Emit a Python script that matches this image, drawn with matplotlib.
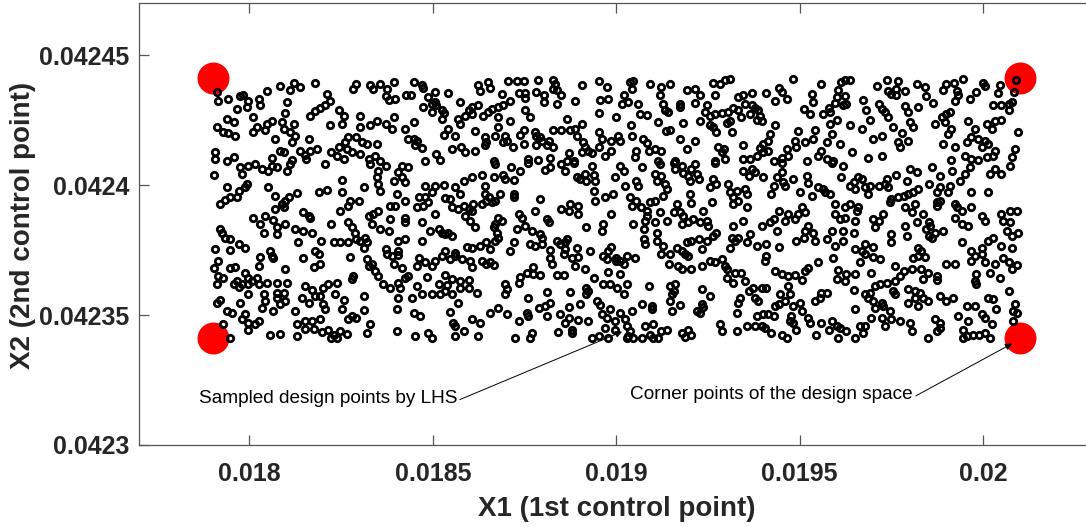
# plot.py
#
# LHS sample of the two control points (X1, X2) inside the design space,
# with the four corner points of the design space drawn as big red dots.
# Samples are kept in the unit square (per mille) and scaled to the bounds.

import numpy as np
import matplotlib
matplotlib.use("Agg")
import matplotlib.pyplot as plt

X1_BOUNDS = (0.0179, 0.0201)
X2_BOUNDS = (0.042341, 0.042441)

corner_x1 = [0.0179, 0.0179, 0.0201, 0.0201]
corner_x2 = [0.042341, 0.042441, 0.042341, 0.042441]

x_ticks = [0.018, 0.0185, 0.019, 0.0195, 0.02]
x_tick_labels = ["0.018", "0.0185", "0.019", "0.0195", "0.02"]
y_ticks = [0.0423, 0.04235, 0.0424, 0.04245]
y_tick_labels = ["0.0423", "0.04235", "0.0424", "0.04245"]

# LHS design points in the unit square, per mille (u -> X1, v -> X2)
lhs_unit = [
    (5,947),(7,915),(19,922),(34,931),(38,938),(44,915),(57,922),(59,896),(67,951),(83,969),(96,954),(100,982),(108,967),(127,983),(141,941),(145,915),(139,896),(133,887),(127,874),(121,857),(156,877),(162,857),(174,960),(178,980),(195,973),(199,960),(207,980),(216,960),(224,986),(214,931),(218,918),(226,922),(240,935),
    (30,883),(42,890),(50,851),(92,909),(90,866),(17,845),(26,832),(5,815),(13,793),(19,789),(28,780),(50,793),(55,812),(67,825),(73,838),(65,800),(86,832),(88,806),(100,825),(96,793),(102,780),(77,767),(98,755),(119,767),(145,819),(160,825),(183,857),(183,812),(195,819),(203,838),(214,825),(224,851),(222,806),(238,806),(242,767),(168,774),(178,774),(185,755),(191,748),(164,755),(166,729),(156,735),(147,716),(154,703),(162,690),(172,716),(183,709),(193,690),(203,748),(201,703),(207,681),(3,716),(3,690),(17,684),(26,697),(83,722),(88,716),(108,722),(114,707),(121,722),(129,729),(98,686),(73,694),(116,690),
    (249,986),(259,973),(261,964),(246,935),(267,928),(275,947),(292,944),(261,890),(271,902),(275,909),(277,896),(271,870),(284,877),(286,866),(284,845),(249,832),(306,909),(329,973),(331,951),(341,986),(344,964),(358,941),(366,989),(377,989),(385,989),(379,944),(387,944),(387,926),(368,915),(360,896),(354,890),(346,883),(341,870),(335,854),(329,896),(321,890),(317,877),(321,864),(313,857),(304,845),(306,825),(354,851),(368,838),(387,877),(393,851),(401,947),(403,995),(410,935),(410,909),(422,995),(424,980),(422,960),(426,954),(432,938),(426,902),(457,973),(478,990),(488,967),(449,915),(480,918),(490,922),(478,866),(439,845),(457,825),(449,806),(443,800),(451,780),(422,800),(432,800),(399,793),(401,780),(405,774),(408,761),(416,761),(385,800),(381,784),(422,735),(401,742),(414,742),(385,748),(372,735),(354,812),(350,780),(362,780),(364,761),(360,755),(337,774),(339,755),(337,745),(325,797),(300,780),(286,784),(292,806),(249,767),(253,761),(251,742),(259,733),(296,729),(308,735),(313,716),(325,720),(277,709),(282,686),(263,684),(348,684),(391,690),(403,686),(418,694),(441,712),(439,684),(447,681),(459,755),(461,735),(465,722),(457,716),(470,712),(478,793),(482,767),(478,735),(486,703),(494,761),(494,722),
    (517,986),(521,990),(519,960),(509,935),(507,902),(515,909),(500,851),(527,902),(529,864),(538,861),(542,977),(556,967),(566,977),(554,935),(558,902),(560,877),(564,870),(552,832),(579,902),(579,890),(587,956),(597,960),(604,938),(597,905),(583,828),(620,982),(628,977),(635,992),(641,999),(622,935),(612,896),(610,870),(604,838),(616,857),(622,864),(631,866),(639,870),(645,887),(651,877),(655,851),(641,838),(616,819),(620,812),(624,793),(637,828),(643,793),(651,928),(657,935),(668,944),(659,902),(668,896),(672,887),(666,864),(676,879),(678,857),(680,838),(674,841),(686,944),(697,913),(701,964),(705,947),(711,922),(719,999),(742,941),(744,909),(732,883),(740,864),
    (518,819),(519,780),(502,780),(505,761),(533,767),(538,751),(540,722),(548,729),(556,722),(525,720),(523,697),(562,797),(566,802),(579,767),(597,761),(587,729),(552,684),(573,684),(626,735),(633,729),(631,716),(622,684),(635,690),(657,742),(690,787),(688,761),(682,748),(678,733),(688,722),(697,819),(657,690),(666,690),(674,703),(682,716),(695,681),(705,694),(713,703),(711,729),(721,761),(723,735),(725,797),(734,755),(744,767),(746,800),(736,684),(750,703),
    (754,980),(775,954),(779,986),(783,992),(790,995),(773,928),(783,931),(785,902),(781,896),(771,905),(763,887),(756,864),(765,870),(806,918),(823,969),(835,995),(837,951),(841,941),(847,960),(849,990),(847,935),(858,951),(872,977),(882,967),(884,931),(893,905),(905,954),(909,977),(918,982),(922,951),(924,935),(920,913),(930,999),(938,922),(946,947),(955,982),(957,969),(975,973),(973,944),(995,995),(993,947),(990,909),(986,902),(977,896),(967,896),(986,877),(810,877),(814,841),(825,902),(829,883),(833,870),(837,851),(858,892),(862,870),(874,890),(790,819),(804,806),(765,825),(773,841),(767,787),(761,755),(777,748),(754,722),(761,690),(769,684),(792,716),(812,694),(818,767),(829,780),(843,815),(854,789),(864,832),(868,812),(862,761),(849,755),(851,738),(829,703),(895,825),(903,851),(907,832),(909,864),(913,870),(915,806),(911,787),(936,838),(944,806),(959,825),(969,838),(977,841),(965,806),(998,793),(905,748),(920,738),(934,755),(940,774),(948,767),(957,761),(961,748),(953,735),(969,722),(994,729),(990,697),(915,686),(932,703),(940,690),(948,686),(959,697),(967,703),
    (1,630),(34,658),(36,632),(44,665),(52,671),(61,652),(69,645),(73,665),(79,658),(96,671),(92,645),(139,671),(42,594),(40,581),(32,568),(30,543),(21,545),(15,532),(9,517),(17,584),(69,584),(77,549),(104,558),(94,543),(90,530),(86,517),(88,504),(77,498),(112,485),(119,472),(121,465),(65,472),(75,455),(50,463),(131,562),(141,571),(160,609),(160,562),(187,581),(170,530),(181,530),(168,510),(158,491),(147,440),(168,446),(172,427),(176,407),(178,382),(183,375),(193,472),(199,478),(205,491),(197,440),(207,420),(218,414),(189,388),(191,369),(187,347),(220,510),(226,510),(238,530),(220,459),(238,465),(238,446),(203,620),(205,594),(207,568),(205,645),(195,671),(214,665),(224,607),(230,639),(234,665),(242,661),(238,600),(234,620),(228,555),(255,543),(263,545),(267,523),(271,562),(263,587),(275,587),(286,591),(253,504),(261,510),(275,478),(259,446),(288,540),(294,536),(300,584),(306,555),(296,504),(304,498),(311,510),(317,498),(323,517),(321,491),(333,517),(311,604),(321,620),(333,630),(313,472),(319,452),(325,427),(269,414),(280,420),(284,407),(292,407),(296,395),(288,401),(230,375),(238,382),(259,375),(288,337),(300,330),(315,350),(321,347),(331,356),(214,343),(230,337),(59,440),(63,407),(79,427),(79,401),(90,440),(102,420),(112,414),(123,407),(134,375),(150,369),(158,369),(168,369),(106,369),(9,420),(11,407),(15,388),(21,382),(32,365),(40,347),(3,343),(21,339),(71,337),(127,337),
    (7,298),(1,272),(21,272),(28,275),(40,253),(57,279),(59,314),(73,317),(75,311),(90,266),(112,308),(131,324),(133,285),(125,275),(170,314),(191,304),(193,279),(197,285),(201,259),(205,240),(211,208),(224,288),(234,272),(238,234),(242,240),(230,214),(220,195),(232,195),(216,324),(222,317),(230,321),(255,311),(253,279),(263,292),(271,279),(275,296),(284,317),(294,304),(300,317),(309,304),(319,298),(321,275),(333,298),(265,236),(288,244),(296,227),(253,202),(280,208),(290,205),(306,221),(317,224),(306,193),(317,193),(259,169),(271,169),(282,169),(288,182),(296,169),(304,137),(327,176),(230,157),(228,112),(247,157),(249,99),(257,86),(294,103),(298,60),(300,47),(321,73),(331,60),(311,28),(300,9),(329,9),(251,9),(267,21),(271,0),(228,28),(195,56),(191,21),(172,86),(178,79),(168,73),(187,108),(187,163),(160,112),(162,146),(174,240),(172,227),(154,215),(143,211),(152,169),(137,195),(133,163),(123,185),(114,202),(110,157),(119,137),(127,163),(137,131),(139,112),(102,105),(114,67),(123,67),(133,73),(104,54),(114,38),(125,38),(135,25),(143,34),(150,15),(154,0),(158,28),(166,18),(147,0),(63,169),(65,144),(61,118),(75,105),(79,176),(88,176),(79,157),(90,144),(83,131),(67,215),(79,215),(92,215),(44,234),(48,221),(55,234),(57,208),(30,221),(26,208),(32,198),(36,208),(44,208),(7,240),(13,234),(5,208),(44,169),(34,137),(5,137),(9,146),(17,105),(24,99),(40,92),(36,73),(44,60),(52,54),(57,67),(44,34),(13,56),(21,0),(71,13),(83,18),(104,9),
    (339,285),(344,292),(348,283),(418,311),(420,285),(435,324),(445,311),(453,314),(449,279),(397,275),(389,253),(397,247),(406,244),(381,236),(379,214),(426,244),(435,244),(461,266),(472,234),(484,317),(488,304),(500,311),(505,298),(513,317),(523,311),(509,285),(500,298),(490,257),(505,249),(484,208),(492,208),(501,193),(513,208),(509,169),(463,195),(465,182),(463,169),(443,180),(414,180),(362,208),(364,189),(362,169),(391,157),(354,118),(344,99),(364,92),(389,99),(391,86),(404,118),(412,124),(418,137),(414,86),(430,92),(441,121),(455,131),(379,67),(375,0),(393,0),(395,21),(428,25),(437,60),(441,79),(445,34),(445,21),(453,69),(465,67),(476,144),(480,128),(482,92),(488,79),(492,112),(505,99),(499,67),(511,73),(519,105),(532,133),(544,124),(544,112),(486,41),(499,34),(513,47),(517,28),(515,9),(478,9),(470,0),(490,0),(513,0),(521,0),(532,0),(536,47),(546,56),(542,15),(546,0),(552,0),(556,28),(563,34),(540,202),(556,324),(567,324),(585,324),(589,317),(565,285),(577,279),(581,266),(593,266),(606,279),(616,298),(622,292),(631,304),(635,279),(637,266),(647,253),(655,253),(660,221),(645,214),(637,234),(606,189),(616,163),(567,202),(573,208),(571,182),(569,169),(567,144),(579,128),(569,105),(606,131),(608,121),(604,99),(600,105),(629,54),(631,28),(581,21),(589,34),(593,15),(585,5),(649,99),(649,28),(653,157),(651,137),(664,182),(670,195),(672,157),(676,144),(662,47),(674,86),(672,47),
    (350,671),(337,587),(337,555),(342,543),(339,530),(346,523),(350,530),(356,555),(373,555),(373,543),(348,622),(360,630),(362,613),(373,609),(370,658),(381,643),(391,674),(412,648),(418,661),(432,671),(437,645),(447,674),(451,622),(455,613),(461,632),(470,665),(472,630),(474,607),(463,604),(472,568),(474,530),(486,543),(496,555),(498,620),(505,665),(509,645),(511,587),(532,658),(525,607),(527,587),(548,632),(550,607),(556,626),(560,594),(563,575),(558,549),(554,671),(571,674),(573,652),(581,665),(583,635),(589,626),(593,652),(600,632),(602,613),(591,607),(598,671),(622,674),(620,613),(616,584),(624,594),(639,594),(641,562),(649,568),(659,575),(662,555),(645,543),(657,645),(668,652),(664,626),(672,639),(645,517),(651,530),(662,504),(591,555),(593,519),(618,523),(608,491),(575,517),(571,485),(579,485),(583,472),(581,440),(589,446),(595,459),(604,446),(612,452),(614,433),(620,395),(612,375),(602,382),(593,375),(587,369),(606,343),(624,407),(645,433),(657,452),(643,388),(647,375),(651,388),(662,369),(674,356),(641,347),(666,401),(517,543),(525,530),(519,510),(530,504),(538,491),(542,523),(548,530),(538,472),(536,452),(548,446),(550,407),(563,452),(554,485),(494,478),(521,440),(534,382),(536,362),(550,375),(558,356),(575,349),(581,337),(490,337),(494,350),(484,440),(482,414),(463,427),(443,517),(453,510),(453,478),(441,491),(432,498),(406,536),(399,491),(379,478),(383,465),(414,459),(416,446),(354,465),(358,452),(350,440),(348,427),(352,407),(354,388),(350,375),(339,369),(344,343),(373,369),(368,337),(377,420),(387,433),(395,414),(406,401),(408,388),(393,362),(399,356),(408,362),(418,339),(426,375),(430,362),(437,369),(439,382),(437,343),(451,349),(467,337),(534,420),
    (682,620),(692,555),(695,587),(699,620),(705,639),(707,600),(709,587),(719,613),(705,674),(736,626),(738,596),(728,562),(742,549),(750,581),(756,575),(759,562),(765,555),(767,674),(781,665),(779,620),(790,587),(794,600),(796,575),(800,620),(804,613),(808,581),(814,587),(812,555),(825,587),(833,594),(835,613),(837,581),(847,630),(860,607),(864,652),(872,639),(874,575),(868,562),(862,555),(856,549),(849,543),(841,536),(839,523),(891,658),(901,626),(887,594),(897,562),(901,581),(911,562),(916,645),(926,607),(932,632),(938,658),(913,587),(940,562),(961,562),(963,632),(969,652),(977,632),(988,665),(897,523),(897,510),(901,530),(858,504),(866,485),(870,517),(880,478),(872,446),(887,446),(889,433),(884,420),(887,395),(891,388),(905,414),(895,407),(920,517),(922,504),(928,491),(940,504),(920,465),(928,440),(936,433),(953,472),(957,452),(967,388),(977,478),(988,491),(996,491),(979,452),(988,446),(984,414),(998,407),(990,395),(990,349),(977,356),(953,347),(961,375),(940,337),(928,369),(874,349),(878,337),(860,395),(858,433),(841,401),(841,369),(818,459),(825,452),(831,478),(820,427),(783,504),(790,517),(798,491),(800,504),(796,452),(771,517),(771,478),(777,459),(783,465),(794,407),(781,414),(781,375),(771,356),(767,414),(761,382),(746,375),(744,407),(738,433),(734,414),(732,388),(723,375),(721,459),(725,478),(734,485),(730,504),(713,478),(709,452),(701,491),(695,459),(690,446),(680,433),(699,414),(686,362),(701,350),(796,343),(804,337),(818,350),(808,362),
    (686,317),(684,298),(697,259),(705,247),(713,240),(721,244),(730,223),(734,259),(738,272),(713,202),(715,169),(703,169),(701,131),(697,124),(709,144),(680,195),(686,195),(682,95),(688,92),(695,86),(692,21),(705,15),(711,0),(723,31),(719,124),(728,137),(730,105),(717,86),(715,67),(719,60),(738,79),(740,60),(746,144),(752,157),(754,176),(761,176),(748,15),(680,47),(684,41),(750,292),(769,308),(775,262),(773,227),(785,249),(783,221),(796,249),(794,185),(796,112),(808,169),(814,176),(816,253),(820,202),(827,208),(835,215),(845,279),(845,221),(843,182),(845,169),(851,240),(856,259),(866,266),(878,266),(880,227),(886,253),(897,223),(897,240),(802,292),(808,324),(818,314),(827,304),(868,311),(874,317),(883,314),(909,285),(920,285),(940,298),(944,317),(953,324),(957,292),(969,285),(979,311),(986,292),(996,283),(990,266),(963,253),(946,247),(944,221),(946,208),(975,234),(986,182),(862,189),(870,182),(876,176),(880,157),(886,144),(870,157),(874,124),(862,137),(901,163),(909,144),(917,157),(812,157),(818,144),(829,137),(820,118),(831,124),(839,105),(816,79),(829,79),(841,73),(851,67),(864,60),(866,28),(833,47),(767,67),(763,34),(773,47),(777,41),(785,28),(802,47),(808,47),(806,21),(796,2),(775,0),(754,60),(886,0),(895,73),(901,60),(897,28),(901,41),(924,86),(936,67),(934,124),(944,124),(930,34),(934,9),(942,15),(949,15),(957,21),(963,0),(930,0),(953,92),(957,79),(965,54),(961,157),(967,150),(971,112),(994,131),(992,105),(996,99),(992,67),
]

unit = np.clip(np.array(lhs_unit, dtype=float) / 1000.0, 0.0, 1.0)
x1 = X1_BOUNDS[0] + unit[:, 0] * (X1_BOUNDS[1] - X1_BOUNDS[0])
x2 = X2_BOUNDS[0] + unit[:, 1] * (X2_BOUNDS[1] - X2_BOUNDS[0])

TEXT = "#262626"
AXIS = "#555555"

fig = plt.figure(figsize=(10.86, 5.27), dpi=100)
# right edge of the box falls just outside the picture, like the original
ax = fig.add_axes([0.1284, 0.1556, 0.8782, 0.8387])

ax.plot(corner_x1, corner_x2, "o", color="red", markersize=23,
        markeredgewidth=0, zorder=2)
ax.plot(x1, x2, "o", markerfacecolor="none", markeredgecolor="black",
        markersize=4.6, markeredgewidth=2.0, zorder=3)

ax.set_xlim(0.0177, 0.0203)
ax.set_ylim(0.0423, 0.04247)
ax.set_xticks(x_ticks)
ax.set_xticklabels(x_tick_labels)
ax.set_yticks(y_ticks)
ax.set_yticklabels(y_tick_labels)

for side in ["left", "bottom", "top"]:
    ax.spines[side].set_color(AXIS)
    ax.spines[side].set_linewidth(0.9)
ax.spines["right"].set_visible(False)

ax.tick_params(axis="both", direction="in", length=7, width=0.9,
               color=AXIS, top=True, right=False, labelcolor=TEXT)
ax.tick_params(axis="x", pad=12)
ax.tick_params(axis="y", pad=7)
for lab in ax.get_xticklabels() + ax.get_yticklabels():
    lab.set_fontfamily("Liberation Sans")
    lab.set_fontweight("bold")
    lab.set_fontsize(18)

fig.text(617 / 1086, 1 - 509 / 527, "X1 (1st control point)", ha="center",
         va="center", fontsize=20, fontweight="bold", color=TEXT,
         family="Liberation Sans")
fig.text(23 / 1086, 1 - 225 / 527, "X2 (2nd control point)", ha="center",
         va="center", rotation=90, fontsize=20, fontweight="bold",
         color=TEXT, family="Liberation Sans")

arrow = dict(arrowstyle="-|>", color="black", lw=0.7, shrinkA=0, shrinkB=0,
             mutation_scale=10, relpos=(1.0, 0.35))
ax.annotate("Sampled design points by LHS", xy=(0.019016, 0.0423436),
            xytext=(0.018566, 0.042318), ha="right", va="center",
            fontsize=13.7, family="Liberation Sans", color="black",
            arrowprops=arrow, zorder=4)
ax.annotate("Corner points of the design space", xy=(0.020079, 0.042339),
            xytext=(0.019809, 0.0423193), ha="right", va="center",
            fontsize=13.7, family="Liberation Sans", color="black",
            arrowprops=arrow, zorder=4)

fig.savefig("out.png", dpi=100)
print("Wrote out.png")
